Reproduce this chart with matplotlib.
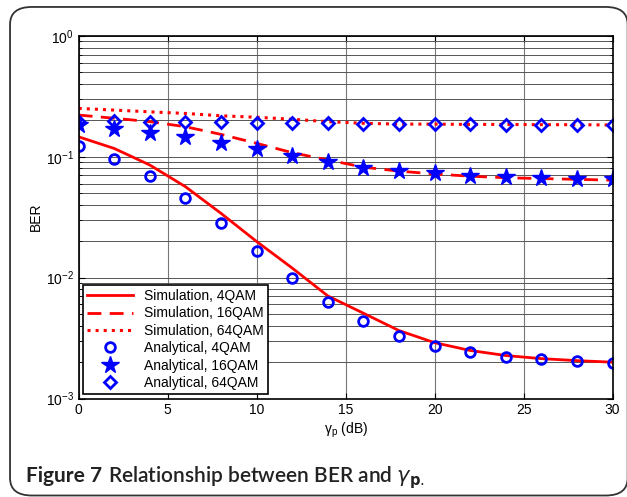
import matplotlib
matplotlib.use('Agg')
from matplotlib import pyplot as plt, patches
import numpy as np

plt.rcParams['font.family'] = ['Liberation Sans', 'DejaVu Sans']
plt.rcParams['mathtext.fontset'] = 'custom'
plt.rcParams['mathtext.rm'] = 'Liberation Sans'
plt.rcParams['mathtext.it'] = 'Liberation Sans:italic'

# SNR points (dB)
gamma_p = [0, 2, 4, 6, 8, 10, 12, 14, 16, 18, 20, 22, 24, 26, 28, 30]

sim_4qam = [0.146, 0.117, 0.0853, 0.0565, 0.034, 0.0199, 0.0120, 0.00706,
            0.00508, 0.00365, 0.0029, 0.0025, 0.00227, 0.00214, 0.00206, 0.0020]
sim_16qam = [0.221, 0.208, 0.195, 0.177, 0.153, 0.129, 0.108, 0.094,
             0.082, 0.076, 0.072, 0.069, 0.067, 0.066, 0.065, 0.064]
sim_64qam = [0.251, 0.243, 0.235, 0.228, 0.218, 0.212, 0.204, 0.195,
             0.189, 0.186, 0.186, 0.185, 0.185, 0.184, 0.184, 0.183]

ana_4qam = [0.123, 0.0957, 0.0697, 0.0453, 0.0282, 0.0165, 0.0100, 0.0063,
            0.00438, 0.00328, 0.00274, 0.00245, 0.00222, 0.00212, 0.00205, 0.00197]
ana_16qam = [0.183, 0.171, 0.158, 0.146, 0.130, 0.115, 0.101, 0.091,
             0.081, 0.0762, 0.073, 0.0697, 0.0676, 0.0663, 0.0655, 0.065]
ana_64qam = [0.192, 0.197, 0.195, 0.192, 0.192, 0.189, 0.189, 0.189,
             0.185, 0.185, 0.185, 0.185, 0.184, 0.184, 0.184, 0.184]

fig = plt.figure(figsize=(6.27, 4.97), dpi=100)

# rounded frame around figure (runs off the right/bottom edge a little)
ramka = patches.FancyBboxPatch((0.016, 0.003), 0.985, 0.983,
                               boxstyle='round,pad=0,rounding_size=0.035',
                               transform=fig.transFigure, fill=False,
                               edgecolor='#333333', linewidth=1.3)
fig.patches.append(ramka)

ax = fig.add_axes([0.1255, 0.198, 0.8515, 0.730])

ax.semilogy(gamma_p, sim_4qam, color='red', linestyle='-', linewidth=2, label='Simulation, 4QAM')
ax.semilogy(gamma_p, sim_16qam, color='red', linestyle='--', linewidth=2, dashes=(5, 3), label='Simulation, 16QAM')
ax.semilogy(gamma_p, sim_64qam, color='red', linestyle=':', linewidth=2.2, label='Simulation, 64QAM')
ax.semilogy(gamma_p, ana_4qam, linestyle='none', marker='o', markersize=7, markerfacecolor='none',
            markeredgecolor='blue', markeredgewidth=2, label='Analytical, 4QAM')
ax.semilogy(gamma_p, ana_16qam, linestyle='none', marker='*', markersize=13, color='blue',
            label='Analytical, 16QAM')
ax.semilogy(gamma_p, ana_64qam, linestyle='none', marker='D', markersize=6, markerfacecolor='none',
            markeredgecolor='blue', markeredgewidth=2, label='Analytical, 64QAM')

ax.set_xlim(0, 30)
ax.set_ylim(1e-3, 1)
ax.set_xticks([0, 5, 10, 15, 20, 25, 30])
ax.tick_params(which='both', direction='in', top=True, right=True, labelsize=10)
ax.tick_params(which='major', length=4)
ax.tick_params(which='minor', length=2)
ax.grid(True, which='major', axis='x', color='#777777', linewidth=0.8)
ax.grid(True, which='both', axis='y', color='#555555', linewidth=0.7)
for s in ax.spines.values():
    s.set_linewidth(1.2)

ax.set_xlabel(r'$\mathrm{\gamma}_{\mathrm{p}}$ (dB)', fontsize=10, labelpad=2)
ax.set_ylabel('BER', fontsize=10, labelpad=2)

leg = ax.legend(loc='lower left', fontsize=10, fancybox=False, framealpha=1,
                edgecolor='black', borderaxespad=0.3, handlelength=3.3,
                borderpad=0.3, labelspacing=0.25)
leg.get_frame().set_linewidth(1.2)

# caption: bold label, then the rest right after it
t1 = fig.text(0.042, 0.03, 'Figure 7', fontsize=15, fontweight='bold', family='Lato',
              color='#222222', va='baseline')
fig.canvas.draw()
bb = t1.get_window_extent().transformed(fig.transFigure.inverted())
fig.text(bb.x1 + 0.009, 0.03, r'Relationship between BER and $\mathit{\gamma}_{\mathbf{p}.}$', fontsize=15,
         family='Lato', fontweight='semibold', math_fontfamily='dejavusans',
         color='#222222', va='baseline')

fig.savefig('out.png', dpi=100)
